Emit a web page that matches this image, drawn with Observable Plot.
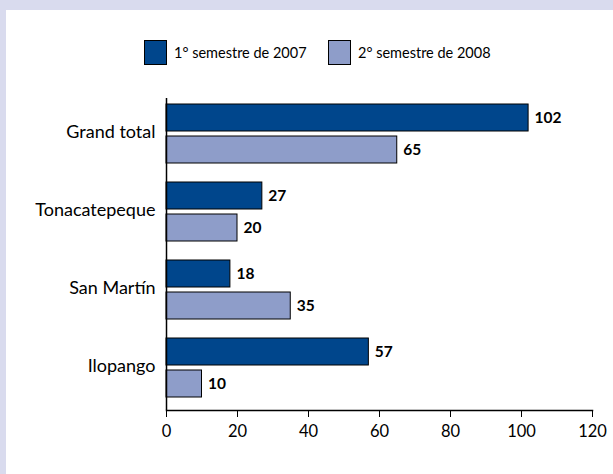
<!DOCTYPE html>
<html>
<head>
<meta charset="utf-8">
<script src="https://cdn.jsdelivr.net/npm/d3@7"></script>
<script src="https://cdn.jsdelivr.net/npm/@observablehq/plot@0.6"></script>
<style>
  html, body { margin: 0; padding: 0; }
  body { width: 613px; height: 474px; background: #d9dbee; position: relative; overflow: hidden; font-family: Lato, "Open Sans", sans-serif; }
  #panel { position: absolute; left: 6px; top: 10px; width: 607px; height: 464px; background: #fff; }
  #chart { position: absolute; left: 0; top: 0; }
  .legend { position: absolute; top: 30px; display: flex; align-items: center; font-size: 14.5px; color: #000; }
  .sw { width: 21px; height: 23px; border: 1px solid #000; margin-right: 7px; box-sizing: content-box; }
</style>
</head>
<body>
<div id="panel">
  <div id="chart"></div>
</div>
<script>
const categories = ["Grand total", "Tonacatepeque", "San Martín", "Ilopango"];
const series = ["1° semestre de 2007", "2° semestre de 2008"];
const values2007 = [102, 27, 18, 57];
const values2008 = [65, 20, 35, 10];
const colors = ["#00468c", "#8e9dc9"];
const xTicks = [0, 20, 40, 60, 80, 100, 120];

const data = [];
categories.forEach((c, i) => {
  data.push({cat: c, series: series[0], value: values2007[i]});
  data.push({cat: c, series: series[1], value: values2008[i]});
});

const panel = document.getElementById("panel");
// legend
const legendX = [138, 322];
series.forEach((s, i) => {
  const el = document.createElement("div");
  el.className = "legend";
  el.style.left = legendX[i] + "px";
  const sw = document.createElement("div");
  sw.className = "sw";
  sw.style.background = colors[i];
  const t = document.createElement("span");
  t.textContent = s;
  el.appendChild(sw);
  el.appendChild(t);
  panel.appendChild(el);
});

const chart = Plot.plot({
  width: 607,
  height: 464,
  marginLeft: 160,
  marginRight: 21,
  marginTop: 87,
  marginBottom: 63,
  style: {fontFamily: "Lato, 'Open Sans', sans-serif", fontSize: "16px", color: "#000", background: "transparent", overflow: "visible"},
  x: {domain: [0, 120], label: null},
  fy: {domain: categories, padding: 0, label: null},
  y: {domain: series, axis: null, paddingInner: 0.15, paddingOuter: 0.26, align: 0.34},
  color: {domain: series, range: colors},
  marks: [
    Plot.barX(data, {fy: "cat", y: "series", x: "value", fill: "series", stroke: "#000", strokeWidth: 1}),
    Plot.text(data, {fy: "cat", y: "series", x: "value", text: d => String(d.value), textAnchor: "start", dx: 6, fontWeight: "bold", fontSize: 15.5}),
    Plot.ruleX([0], {stroke: "#000", strokeWidth: 1.5}),
    Plot.axisFy({anchor: "left", tickSize: 0, tickPadding: 11, fontSize: 18, dy: -5, label: null}),
    Plot.axisX({anchor: "bottom", ticks: xTicks, tickSize: 7, tickPadding: 8, fontSize: 16.5, label: null}),
    Plot.frame({anchor: "bottom", facetAnchor: "bottom", stroke: "#000", strokeWidth: 1.5})
  ]
});
document.getElementById("chart").appendChild(chart);
</script>
</body>
</html>
